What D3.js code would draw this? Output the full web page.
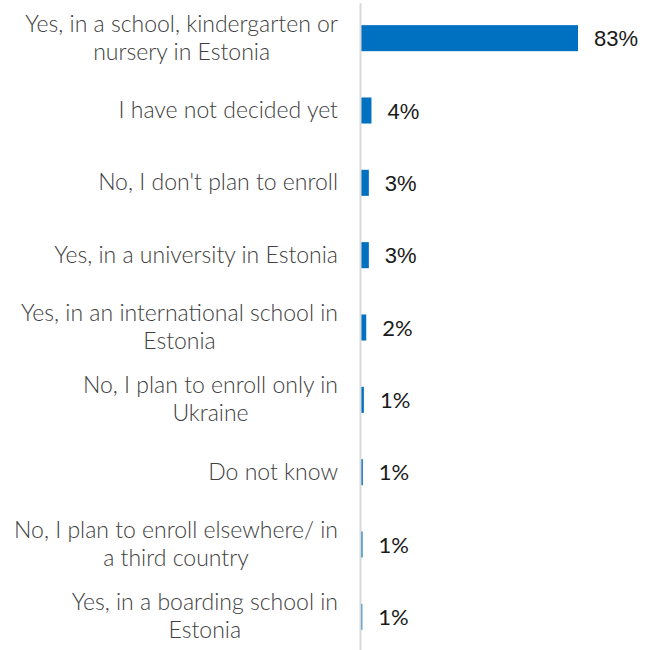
<!DOCTYPE html>
<html>
<head>
<meta charset="utf-8">
<script src="https://cdn.jsdelivr.net/npm/d3@7"></script>
<style>
  html, body { margin: 0; padding: 0; background: #ffffff; }
  svg { display: block; }
</style>
</head>
<body>
<svg id="chart" width="657" height="650"></svg>
<script>
// Survey answers, top to bottom
const categories = [
  "Yes, in a school, kindergarten or nursery in Estonia",
  "I have not decided yet",
  "No, I don't plan to enroll",
  "Yes, in a university in Estonia",
  "Yes, in an international school in Estonia",
  "No, I plan to enroll only in Ukraine",
  "Do not know",
  "No, I plan to enroll elsewhere/ in a third country",
  "Yes, in a boarding school in Estonia"
];
// Share of respondents, %
const values = [83, 4, 3, 3, 2, 1.1, 0.7, 0.6, 0.5];

const svg = d3.select("#chart");
const axisX = 361;

const y = d3.scaleBand()
  .domain(categories)
  .range([2, 653])
  .paddingInner(0.64)
  .paddingOuter(0.32);

const x = d3.scaleLinear()
  .domain([0, d3.max(values)])
  .range([axisX, 578]);

const rows = categories.map((c, i) => ({ cat: c, val: values[i], i }));

// bars
svg.append("g")
  .selectAll("rect")
  .data(rows)
  .join("rect")
  .attr("x", x(0))
  .attr("y", d => y(d.cat))
  .attr("width", d => x(d.val) - x(0))
  .attr("height", y.bandwidth())
  .attr("fill", "#0070C0");

// vertical category axis line
svg.append("line")
  .attr("x1", axisX - 0.5).attr("x2", axisX - 0.5)
  .attr("y1", 3).attr("y2", 650)
  .attr("stroke", "#d9d9d9")
  .attr("stroke-width", 2);

// category labels: wrapped, each block centred and flush against the label column's right edge
const labelRight = 338;
const labelWidth = 334;
const lineH = 28;
const labels = svg.append("g")
  .attr("font-family", "Lato, 'Open Sans', sans-serif")
  .attr("font-weight", 300)
  .attr("font-size", 23)
  .attr("fill", "#404040")
  .attr("text-anchor", "middle");

rows.forEach(d => {
  const t = labels.append("text");
  const probe = t.append("tspan");
  const measure = s => { probe.text(s); return probe.node().getComputedTextLength(); };
  const words = d.cat.split(" ");
  const lines = [];
  let cur = [];
  words.forEach(w => {
    if (cur.length && measure(cur.concat(w).join(" ")) > labelWidth) {
      lines.push(cur.join(" "));
      cur = [w];
    } else {
      cur.push(w);
    }
  });
  lines.push(cur.join(" "));
  const blockW = d3.max(lines, measure);
  probe.remove();
  const cx = labelRight - blockW / 2;
  const cy = y(d.cat) + y.bandwidth() / 2;
  const first = cy - (lines.length - 1) * lineH / 2 + 7.5;
  lines.forEach((ln, k) => {
    t.append("tspan").attr("x", cx).attr("y", first + k * lineH).text(ln);
  });
});

// value labels
svg.append("g")
  .selectAll("text")
  .data(rows)
  .join("text")
  .attr("x", d => x(d.val) + 16)
  .attr("y", d => y(d.cat) + y.bandwidth() / 2 + 8)
  .attr("font-family", d => d.i < 4 ? "'Liberation Sans', Arial, sans-serif" : "Lato, sans-serif")
  .attr("font-size", 22)
  .attr("fill", "#1a1a1a")
  .text(d => Math.round(d.val) + "%");
</script>
</body>
</html>
